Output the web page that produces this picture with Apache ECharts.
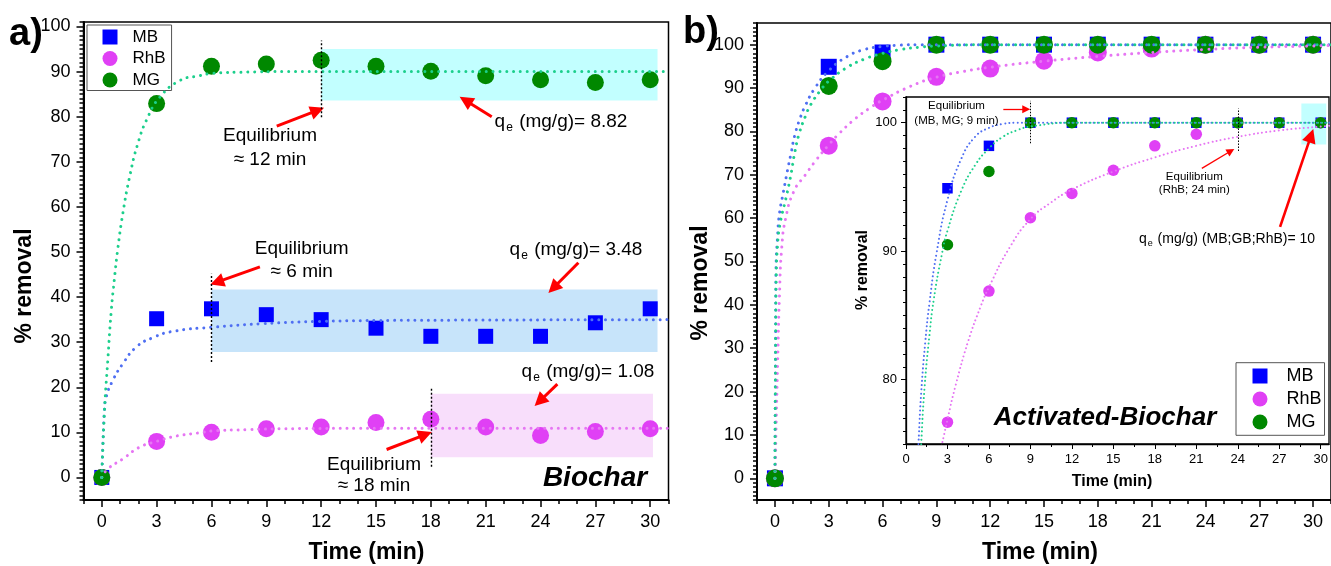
<!DOCTYPE html>
<html><head><meta charset="utf-8">
<script src="https://cdn.jsdelivr.net/npm/echarts@6/dist/echarts.min.js"></script>
<style>html,body{margin:0;padding:0;background:#fff}#c{width:1331px;height:566px}</style>
</head><body><div id="c"></div>
<script>
// ---------- DATA ----------
const time = [0, 3, 6, 9, 12, 15, 18, 21, 24, 27, 30];
// (a) Biochar, % removal
const bioMB  = [0, 35.2, 37.4, 36.1, 35.0, 33.1, 31.3, 31.3, 31.3, 34.3, 37.4];
const bioRhB = [0, 8.0, 10.0, 10.8, 11.2, 12.2, 12.9, 11.2, 9.3, 10.2, 10.8];
const bioMG  = [0, 82.9, 91.2, 91.7, 92.5, 91.2, 90.1, 89.1, 88.2, 87.6, 88.2];
// (b) Activated-Biochar, % removal
const actMB  = [0, 94.9, 98.2, 100, 100, 100, 100, 100, 100, 100, 100];
const actRhB = [0, 76.7, 86.9, 92.6, 94.5, 96.3, 98.2, 99.1, 100, 100, 100];
const actMG  = [0, 90.5, 96.2, 100, 100, 100, 100, 100, 100, 100, 100];
// kinetic fit curves: [time, % removal]
const bioMBFit  = [[0,0],[0.05,6],[0.1,11],[0.15,15],[0.24,17.8],[0.6,21.5],[1.15,25.2],[1.88,28.9],[2.79,31.0],[3.9,32.4],[6,33.3],[8.8,34.1],[11.9,34.6],[15,34.8],[20,34.9],[31,35.0]];
const bioRhBFit = [[0,0],[0.33,1.9],[1.15,4.1],[2.06,6.7],[3,8.0],[4.1,9.2],[5.35,9.9],[6,10.3],[8,10.6],[10,10.8],[15,10.9],[31,10.9]];
const bioMGFit  = [[0,0],[0.15,14.9],[0.33,26],[0.52,37],[0.7,44.4],[0.87,50.5],[1.15,58.5],[1.52,66.6],[1.97,74],[2.52,79.9],[3.17,84.3],[4.26,88],[5.35,89.1],[6,89.6],[8,89.9],[10,90],[31,90]];
const actMBFit  = [[0,0],[0.02,20],[0.04,35],[0.06,48],[0.15,56],[0.25,61],[0.47,66],[0.7,71],[0.9,75],[1.1,79],[1.4,83],[1.7,86],[2.2,89.8],[3,94],[4,97.2],[5,98.9],[6,99.6],[7,99.9],[8,100],[31,100]];
const actRhBFit = [[0,0],[0.03,4],[0.06,10.8],[0.15,26.3],[0.25,41.6],[0.38,53.2],[0.6,60],[1.07,66.3],[1.7,70.0],[2.3,73.4],[3,76.9],[3.6,79.6],[4.5,83.0],[5.4,85.7],[6,87.2],[7.5,90.3],[9,92.5],[10.5,93.8],[12,94.8],[15,96.2],[18,97.3],[21,98.2],[24,98.9],[27,99.4],[30,99.7],[31,99.8]];
const actMGFit  = [[0,0],[0.02,18],[0.04,33],[0.07,46],[0.15,54],[0.3,59],[0.62,64.7],[0.89,70],[1.1,75],[1.35,79.5],[1.7,83.5],[2,86.2],[2.6,89.8],[3,91.6],[4,94.7],[5,96.7],[6,98],[7,98.9],[8,99.4],[9,99.7],[12,100],[31,100]];
// tick labels
const xTicks = [0, 3, 6, 9, 12, 15, 18, 21, 24, 27, 30];
const yTicksMain = [0, 10, 20, 30, 40, 50, 60, 70, 80, 90, 100];
const yTicksInset = [80, 90, 100];
const seriesNames = ['MB', 'RhB', 'MG'];

// ---------- STYLE ----------
const FONT = '"Liberation Sans", Arial, Helvetica, sans-serif';
const C = { MB:'#0000ff', RhB:'#e040f5', MG:'#008800' };
const CF = { MB:'#4f6ff2', RhB:'#e676f3', MG:'#1ccf8c' };

const xMinorMain = []; for (let t = -1; t <= 31; t++) if (t % 3 !== 0) xMinorMain.push(t);
const yMinorLeft = []; for (let v = -5; v <= 101; v++) if (v % 10 !== 0) yMinorLeft.push(v);
const yMinorRight = []; for (let v = -5; v <= 105; v++) if (v % 10 !== 0) yMinorRight.push(v);
const xMinorInset = []; for (let t = 1.5; t < 30.6; t += 3) xMinorInset.push(t);
const yMinorInset = []; for (let v = 75; v <= 102; v++) if (v % 10 !== 0) yMinorInset.push(v);

const zip = (xs, ys) => xs.map((x, i) => [x, ys[i]]);

function mkAxis(dim, grid, min, max, majors, minors, o) {
  const pos = dim === 'x' ? 'bottom' : 'left';
  return [
    { type:'value', gridIndex:grid, min, max, position:pos,
      axisLine:{ show:true, onZero:false, lineStyle:{ color:'#000', width:o.lw } },
      axisTick:{ show:true, inside:false, length:o.tl, customValues:majors, lineStyle:{ color:'#000', width:o.tw } },
      axisLabel:{ show:true, customValues:majors, margin:o.lm, fontSize:o.fs, color:'#000', fontFamily:FONT },
      splitLine:{ show:false }, minorTick:{ show:false } },
    { type:'value', gridIndex:grid, min, max, position:pos,
      axisLine:{ show:false, onZero:false },
      axisTick:{ show:true, inside:false, length:o.ml, customValues:minors, lineStyle:{ color:'#000', width:o.tw } },
      axisLabel:{ show:false }, splitLine:{ show:false } }
  ];
}
const mainX = { lw:2, tl:7, ml:4, tw:1.5, lm:13, fs:18 };
const mainY = { lw:2, tl:7, ml:4, tw:1.5, lm:13, fs:18 };
const insX = { lw:1.3, tl:5, ml:3, tw:1, lm:9, fs:13 };
const insY = { lw:1.3, tl:5, ml:3, tw:1, lm:9, fs:13 };

const series = [];
function addPanel(g, d, fits, sizes, fitW, fitGap) {
  ['MB','RhB','MG'].forEach((n, i) => {
    series.push({ type:'scatter', name:n, xAxisIndex:2*g, yAxisIndex:2*g, data:zip(time, d[i]),
      symbol: n === 'MB' ? 'rect' : 'circle', symbolSize: n === 'MB' ? sizes[0] : sizes[1],
      itemStyle:{ color:C[n], opacity:1 }, z:2, silent:true, clip:true });
  });
  ['MB','RhB','MG'].forEach((n, i) => {
    series.push({ type:'line', name:n + ' fit', xAxisIndex:2*g, yAxisIndex:2*g, data:fits[i],
      showSymbol:false, symbol:'none', smooth:0.5, clip:true, silent:true,
      lineStyle:{ color:CF[n], width:fitW, type:[0.01, fitGap], cap:'round' }, z:4 });
  });
}
addPanel(0, [bioMB, bioRhB, bioMG], [bioMBFit, bioRhBFit, bioMGFit], [15, 17], 3, 6.8);
addPanel(1, [actMB, actRhB, actMG], [actMBFit, actRhBFit, actMGFit], [16, 18], 3, 7);
addPanel(2, [actMB, actRhB, actMG], [actMBFit, actRhBFit, actMGFit], [10.5, 11.5], 2, 4.2);

function arrowItem(a, b, size) {
  return [{ coord:a, symbol:'none' }, { coord:b, symbol:'triangle', symbolSize:size }];
}
function vline(t, v1, v2) { return [{ coord:[t, v1] }, { coord:[t, v2] }]; }

// left panel annotations
series.push({ type:'scatter', xAxisIndex:0, yAxisIndex:0, data:[], z:2, silent:true,
  markLine:{ silent:true, animation:false, label:{ show:false }, symbol:['none','triangle'],
    lineStyle:{ color:'#ff0000', width:3, type:'solid' },
    data:[ arrowItem([9.57,77.9],[11.8,81.4],14), arrowItem([21.33,80],[19.9,83.6],14),
           arrowItem([8.65,46.7],[6.3,43.3],14), arrowItem([26.07,47.6],[24.7,42.0],14),
           arrowItem([24.92,20.7],[23.95,16.9],14), arrowItem([15.58,6.2],[17.7,9.5],14) ] } });
series.push({ type:'scatter', xAxisIndex:0, yAxisIndex:0, data:[], z:3, silent:true,
  markArea:{ silent:true, animation:false, data:[
    [{ coord:[12,83.6], itemStyle:{ color:'rgba(0,255,255,0.24)' } }, { coord:[30.4,95] }],
    [{ coord:[6,27.8], itemStyle:{ color:'rgba(0,130,230,0.22)' } }, { coord:[30.4,41.7] }],
    [{ coord:[18,4.5], itemStyle:{ color:'rgba(220,90,235,0.2)' } }, { coord:[30.15,18.55] }] ] } });
series.push({ type:'scatter', xAxisIndex:0, yAxisIndex:0, data:[], z:5, silent:true,
  markLine:{ silent:true, animation:false, symbol:'none', label:{ show:false },
    lineStyle:{ color:'#000', width:1.4, type:[2,2] },
    data:[ vline(12,79.9,96.9), vline(6,25.6,45.2), vline(18,2.4,19.7) ] } });
// inset annotations
series.push({ type:'scatter', xAxisIndex:4, yAxisIndex:4, data:[], z:2, silent:true,
  markLine:{ silent:true, animation:false, label:{ show:false }, symbol:['none','triangle'],
    lineStyle:{ color:'#ff0000', width:1.3, type:'solid' },
    data:[ arrowItem([7.04,101.04],[8.7,101.04],8), arrowItem([21.4,96.45],[23.5,97.8],8),
           [{ coord:[27.06,91.9], symbol:'none', lineStyle:{ width:2.6 } }, { coord:[29.3,99.0], symbol:'triangle', symbolSize:14 }] ] } });
series.push({ type:'scatter', xAxisIndex:4, yAxisIndex:4, data:[], z:3, silent:true,
  markArea:{ silent:true, animation:false, data:[
    [{ coord:[28.6,98.3], itemStyle:{ color:'rgba(0,255,255,0.24)' } }, { coord:[30.4,101.5] }] ] } });
series.push({ type:'scatter', xAxisIndex:4, yAxisIndex:4, data:[], z:5, silent:true,
  markLine:{ silent:true, animation:false, symbol:'none', label:{ show:false },
    lineStyle:{ color:'#000', width:1, type:[1.5,1.5] },
    data:[ vline(9,98.4,101.7), vline(24,97.8,101.1) ] } });

function T(x, y, text, fs, extra) {
  return Object.assign({ type:'text', x, y, z:100, silent:true,
    style:Object.assign({ text, fontSize:fs, fontFamily:FONT, fill:'#000', align:'center', verticalAlign:'middle' }, extra || {}) });
}
function Q(x, y, rest, fs, sfs, pad) {
  return { type:'text', x, y, z:100, silent:true,
    style:{ text:'{n|q}{s|e}{n|' + rest + '}', align:'center', verticalAlign:'middle', fontFamily:FONT,
      rich:{ n:{ fontSize:fs, fontFamily:FONT, fill:'#000' },
             s:{ fontSize:sfs, fontFamily:FONT, fill:'#000', padding:[pad,1,0,1] } } } };
}
const graphic = [
  T(26, 35, 'a)', 38, { fontWeight:'bold' }),
  T(701, 33, 'b)', 38, { fontWeight:'bold' }),
  Object.assign(T(25, 286, '% removal', 23, { fontWeight:'bold' }), { rotation:Math.PI/2 }),
  Object.assign(T(701, 283, '% removal', 23, { fontWeight:'bold' }), { rotation:Math.PI/2 }),
  Object.assign(T(863, 270, '% removal', 16, { fontWeight:'bold' }), { rotation:Math.PI/2 }),
  T(366.5, 553, 'Time (min)', 23, { fontWeight:'bold' }),
  T(1040, 553, 'Time (min)', 23, { fontWeight:'bold' }),
  T(1112, 482, 'Time (min)', 16, { fontWeight:'bold' }),
  T(270, 148, 'Equilibrium\n≈ 12 min', 19, { lineHeight:24 }),
  T(301.7, 260, 'Equilibrium\n≈ 6 min', 19, { lineHeight:23 }),
  T(374, 475.5, 'Equilibrium\n≈ 18 min', 19, { lineHeight:21 }),
  Q(561, 122, ' (mg/g)= 8.82', 19, 12, 12),
  Q(576, 250, ' (mg/g)= 3.48', 19, 12, 12),
  Q(588, 371.7, ' (mg/g)= 1.08', 19, 12, 12),
  T(595, 478, 'Biochar', 28, { fontWeight:'bold', fontStyle:'italic' }),
  T(1105, 418.3, 'Activated-Biochar', 26, { fontWeight:'bold', fontStyle:'italic' }),
  T(956.5, 113.3, 'Equilibrium\n(MB, MG; 9 min)', 11.5, { lineHeight:14.5 }),
  T(1194.3, 183.3, 'Equilibrium\n(RhB; 24 min)', 11.5, { lineHeight:13.5 }),
  Q(1227, 239.3, ' (mg/g) (MB;GB;RhB)= 10', 14, 9, 9)
];

const legendData = seriesNames.map(n => ({ name:n, icon: n === 'MB' ? 'rect' : 'circle' }));
const option = {
  animation:false,
  backgroundColor:'#fff',
  textStyle:{ fontFamily:FONT },
  grid:[
    { left:83.5, top:22, width:585, height:478, show:true, borderColor:'#000', borderWidth:1.5, backgroundColor:'transparent' },
    { left:757, top:23, width:584, height:477, show:true, borderColor:'#000', borderWidth:1.5, backgroundColor:'transparent' },
    { left:906, top:97, width:423, height:347, show:true, borderColor:'#000', borderWidth:1.3, backgroundColor:'#fff' }
  ],
  xAxis:[ ...mkAxis('x',0,-1,31,xTicks,xMinorMain,mainX), ...mkAxis('x',1,-1,31,xTicks,xMinorMain,mainX), ...mkAxis('x',2,0,30.6,xTicks,xMinorInset,insX) ],
  yAxis:[ ...mkAxis('y',0,-5,101,yTicksMain,yMinorLeft,mainY), ...mkAxis('y',1,-5,105,yTicksMain,yMinorRight,mainY), ...mkAxis('y',2,75,102,yTicksInset,yMinorInset,insY) ],
  legend:[
    { left:87, top:25, orient:'vertical', data:legendData, selectedMode:false, itemWidth:15, itemHeight:15, itemGap:4.5,
      padding:[3.5,6,2,15.5], borderColor:'#555', borderWidth:1, backgroundColor:'transparent',
      textStyle:{ fontSize:17, color:'#000', fontFamily:FONT, padding:[0,0,0,10] } },
    { left:1236, top:362.7, orient:'vertical', data:legendData, selectedMode:false, itemWidth:15, itemHeight:15, itemGap:5,
      padding:[4.3,3,4.3,16.5], borderColor:'#555', borderWidth:1, backgroundColor:'transparent',
      textStyle:{ fontSize:18, color:'#000', fontFamily:FONT, padding:[0,0,0,14] } }
  ],
  series,
  graphic
};
const chart = echarts.init(document.getElementById('c'), null, { renderer:'canvas' });
chart.setOption(option);
</script></body></html>
